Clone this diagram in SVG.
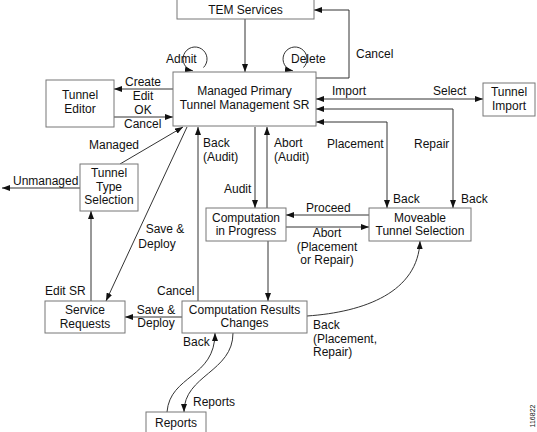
<svg xmlns="http://www.w3.org/2000/svg" width="537" height="432" viewBox="0 0 537 432">
<style>
.box{fill:#fff;stroke:#777;stroke-width:1}
.t{font-family:"Liberation Sans",Arial,Helvetica,sans-serif;font-size:12px;fill:#111}
.c{text-anchor:middle}
.ln{fill:none;stroke:#333;stroke-width:1}
.e{marker-end:url(#ah)}
.s{marker-start:url(#ahs)}
</style>
<defs>
<marker id="ah" viewBox="0 0 8 6" markerWidth="8" markerHeight="6" refX="8" refY="3" orient="auto" markerUnits="userSpaceOnUse"><path d="M0,0 L8,3 L0,6 z" fill="#111"/></marker>
<marker id="ahs" viewBox="0 0 8 6" markerWidth="8" markerHeight="6" refX="8" refY="3" orient="auto-start-reverse" markerUnits="userSpaceOnUse"><path d="M0,0 L8,3 L0,6 z" fill="#111"/></marker>
</defs>
<rect width="537" height="432" fill="#fff"/>
<g id="connectors">
<path class="ln e" d="M245,19 V72"/>
<path class="ln e" d="M316,78 H349 V10 H314"/>
<path class="ln e" d="M203.5,67.5 A12,12 0 1 0 192.9,70.8"/>
<path class="ln e" d="M303.5,67.5 A12,12 0 1 0 292.9,70.8"/>
<path class="ln e" d="M173,89 H114"/>
<path class="ln e" d="M114,117 H173"/>
<path class="ln s e" d="M316,99 H483"/>
<path class="ln s e" d="M453,208 V109 H316"/>
<path class="ln s e" d="M387,208 V122 H316"/>
<path class="ln e" d="M120,164 L183,127"/>
<path class="ln e" d="M80,188 H2"/>
<path class="ln e" d="M187,127 L106,301"/>
<path class="ln e" d="M91,301 V211"/>
<path class="ln e" d="M198,301 V127"/>
<path class="ln e" d="M255,127 V208"/>
<path class="ln e" d="M267,208 V127"/>
<path class="ln e" d="M268,241 V301"/>
<path class="ln e" d="M369,215 H286"/>
<path class="ln e" d="M286,227 H369"/>
<path class="ln e" d="M307,316 C365,312 418,292 420,241"/>
<path class="ln e" d="M182,317 H125"/>
<path class="ln e" d="M167,412 C170,375 215,378 215,333"/>
<path class="ln e" d="M233,333 C233,372 184,375 184,412"/>
<g class="t">
<text x="356" y="58">Cancel</text>
<text x="166" y="63">Admit</text>
<text x="291" y="63">Delete</text>
<text x="125" y="86">Create</text>
<text x="143" y="100" class="c">Edit</text>
<text x="143" y="114" class="c">OK</text>
<text x="124" y="128">Cancel</text>
<text x="332" y="95">Import</text>
<text x="433" y="95">Select</text>
<text x="89" y="149">Managed</text>
<text x="13" y="185">Unmanaged</text>
<text x="203" y="147">Back</text>
<text x="203" y="161">(Audit)</text>
<text x="274" y="147">Abort</text>
<text x="274" y="161">(Audit)</text>
<text x="327" y="148">Placement</text>
<text x="414" y="148">Repair</text>
<text x="224" y="193">Audit</text>
<text x="393" y="203">Back</text>
<text x="461" y="203">Back</text>
<text x="306" y="212">Proceed</text>
<text x="327" y="237" class="c">Abort</text>
<text x="327" y="251" class="c">(Placement</text>
<text x="327" y="264" class="c">or Repair)</text>
<text x="165" y="233" class="c">Save &amp;</text>
<text x="157" y="248" class="c">Deploy</text>
<text x="45" y="295">Edit SR</text>
<text x="157" y="295">Cancel</text>
<text x="156" y="314" class="c">Save &amp;</text>
<text x="156" y="327" class="c">Deploy</text>
<text x="313" y="329">Back</text>
<text x="313" y="343">(Placement,</text>
<text x="313" y="356">Repair)</text>
<text x="183" y="346">Back</text>
<text x="193" y="406">Reports</text>
</g>
</g>
<g id="tem"><rect class="box" x="177" y="-1" width="137" height="20"/><text class="t c" x="245.5" y="14">TEM Services</text></g>
<g id="managed"><rect class="box" x="173" y="72" width="143" height="54"/><text class="t c" x="244.5" y="95">Managed Primary</text><text class="t c" x="244.5" y="109">Tunnel Management SR</text></g>
<g id="editor"><rect class="box" x="46" y="80" width="68" height="47"/><text class="t c" x="80" y="99">Tunnel</text><text class="t c" x="80" y="113">Editor</text></g>
<g id="tunnelImport"><rect class="box" x="483" y="83" width="52" height="33"/><text class="t c" x="509" y="96">Tunnel</text><text class="t c" x="509" y="110">Import</text></g>
<g id="typeSelection"><rect class="box" x="80" y="164" width="58" height="47"/><text class="t c" x="109" y="177">Tunnel</text><text class="t c" x="109" y="191">Type</text><text class="t c" x="109" y="204">Selection</text></g>
<g id="compProgress"><rect class="box" x="206" y="208" width="80" height="33"/><text class="t c" x="246" y="222">Computation</text><text class="t c" x="246" y="235">in Progress</text></g>
<g id="moveable"><rect class="box" x="369" y="208" width="102" height="33"/><text class="t c" x="420" y="222">Moveable</text><text class="t c" x="420" y="235">Tunnel Selection</text></g>
<g id="serviceRequests"><rect class="box" x="45" y="301" width="80" height="32"/><text class="t c" x="85" y="314">Service</text><text class="t c" x="85" y="328">Requests</text></g>
<g id="results"><rect class="box" x="182" y="301" width="125" height="32"/><text class="t c" x="244.5" y="314">Computation Results</text><text class="t c" x="244.5" y="327">Changes</text></g>
<g id="reports"><rect class="box" x="146" y="412" width="60" height="22"/><text class="t c" x="176" y="427">Reports</text></g>
<text x="533" y="416" transform="rotate(-90 533 416)" text-anchor="middle" dominant-baseline="middle" font-family="Liberation Sans, Arial, sans-serif" font-size="7" fill="#111">116822</text>
</svg>
